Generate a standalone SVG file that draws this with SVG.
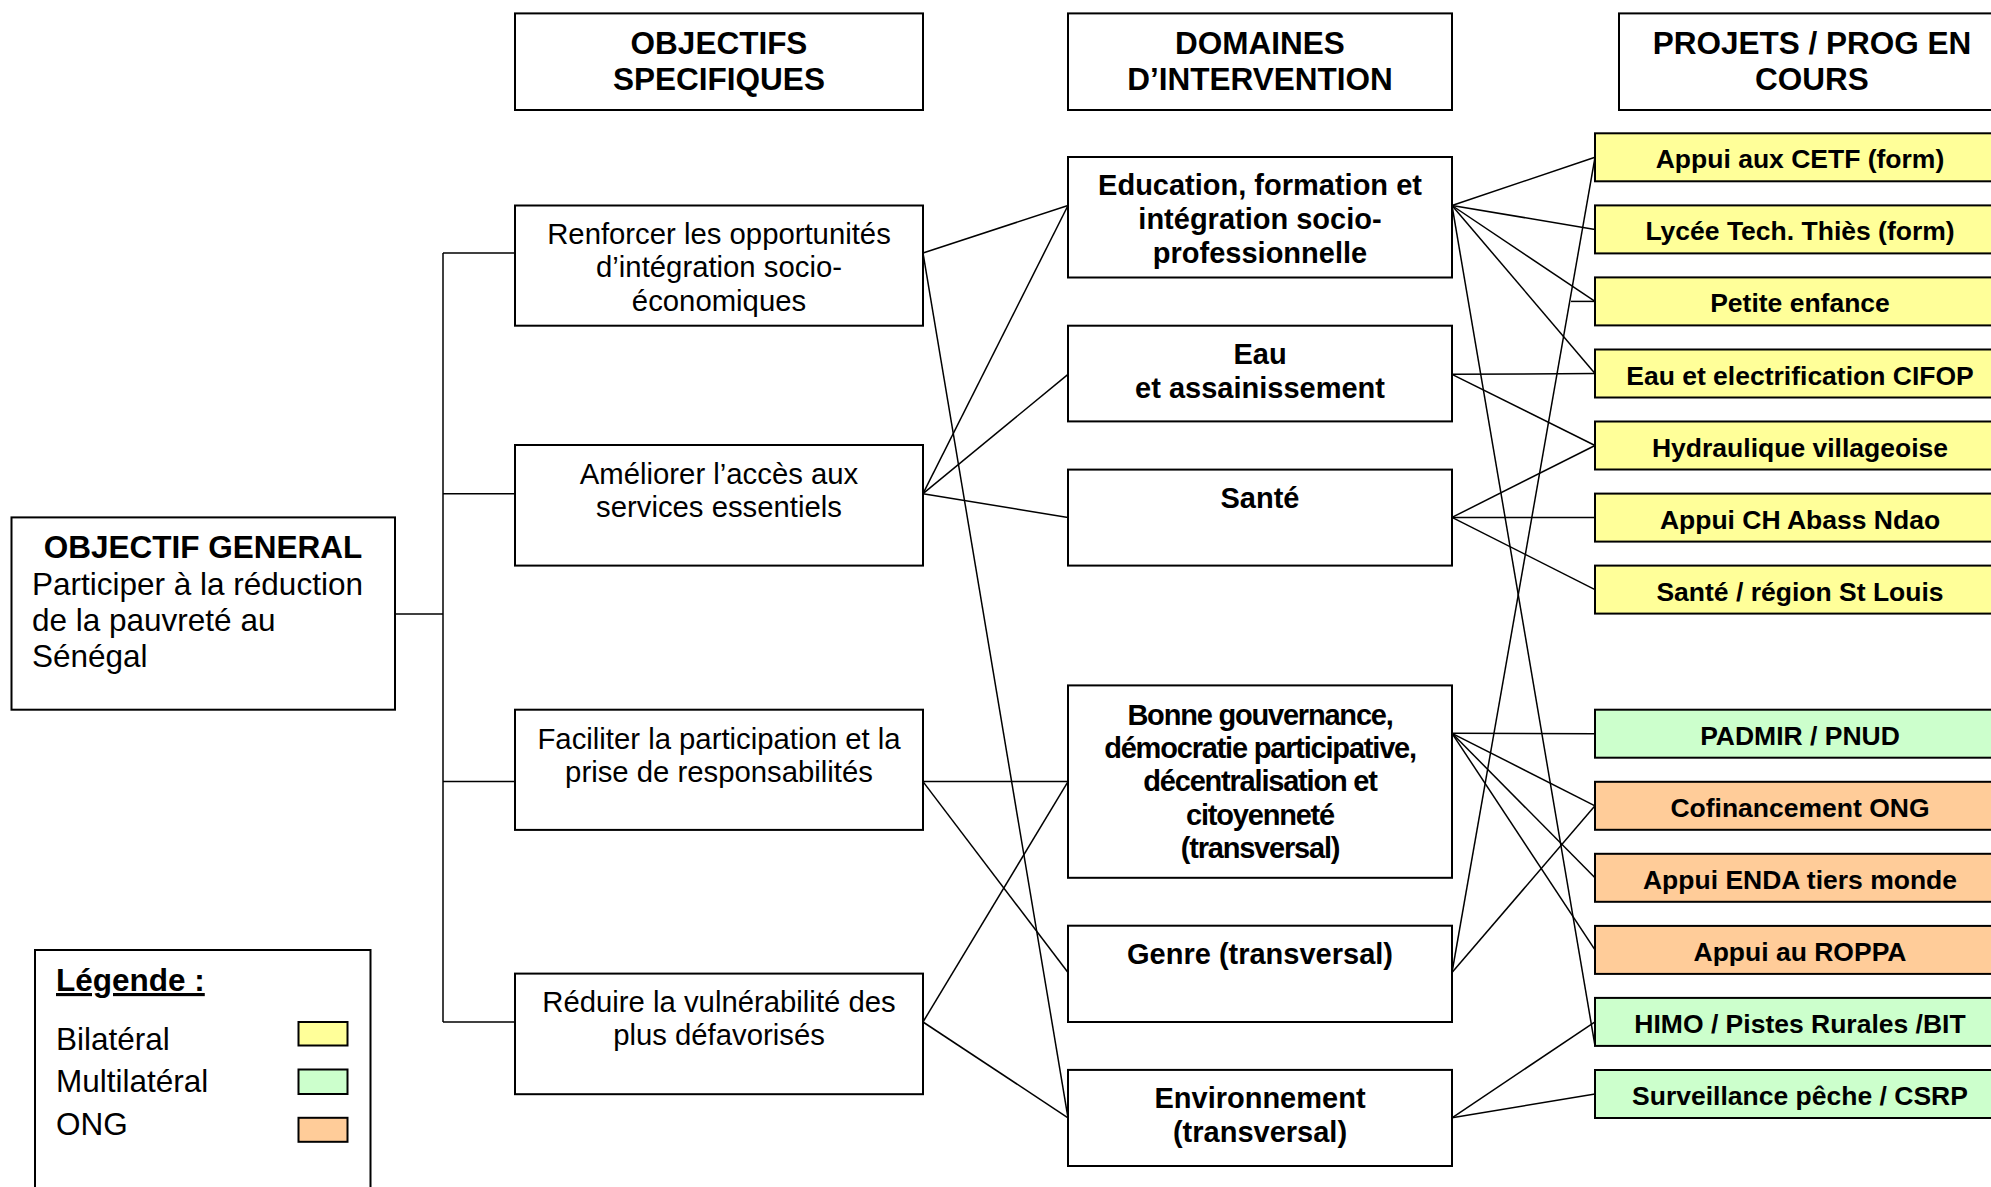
<svg xmlns="http://www.w3.org/2000/svg" width="1991" height="1187" viewBox="0 0 1991 1187">
<style>
text{font-family:"Liberation Sans",Arial,sans-serif;fill:#000}
.box{fill:#fff;stroke:#000;stroke-width:2}
.bil{fill:#FFFF99;stroke:#000;stroke-width:2}
.mul{fill:#CCFFCC;stroke:#000;stroke-width:2}
.ong{fill:#FFCC99;stroke:#000;stroke-width:2}
.hd{font-size:31.5px;font-weight:bold;text-anchor:middle}
.ob{font-size:29.3px;text-anchor:middle}
.dm{font-size:29px;font-weight:bold;text-anchor:middle}
.pj{font-size:26.5px;font-weight:bold;text-anchor:middle}
.lg{font-size:31.5px}
.cn line{stroke:#000;stroke-width:1.5}
</style>
<rect width="1991" height="1187" fill="#fff"/>

<g id="connectors" class="cn">
  <line x1="395" y1="614" x2="443" y2="614"/>
  <line x1="443" y1="253" x2="443" y2="1022"/>
  <line x1="443" y1="253" x2="515" y2="253"/>
  <line x1="443" y1="493.7" x2="515" y2="493.7"/>
  <line x1="443" y1="781.6" x2="515" y2="781.6"/>
  <line x1="443" y1="1022" x2="515" y2="1022"/>
  <line x1="923" y1="253" x2="1068" y2="205.5"/>
  <line x1="923" y1="253" x2="1068" y2="1117.8"/>
  <line x1="923" y1="493.7" x2="1068" y2="205.5"/>
  <line x1="923" y1="493.7" x2="1068" y2="374.3"/>
  <line x1="923" y1="493.7" x2="1068" y2="517.4"/>
  <line x1="923" y1="781.6" x2="1068" y2="781.6"/>
  <line x1="923" y1="781.6" x2="1068" y2="972.5"/>
  <line x1="923" y1="1022" x2="1068" y2="781.6"/>
  <line x1="923" y1="1022" x2="1068" y2="1117.8"/>
  <line x1="1452" y1="205.5" x2="1595" y2="157.3"/>
  <line x1="1452" y1="205.5" x2="1595" y2="229.4"/>
  <line x1="1452" y1="205.5" x2="1595" y2="301.4"/>
  <line x1="1452" y1="205.5" x2="1595" y2="373.5"/>
  <line x1="1452" y1="205.5" x2="1595" y2="1045.8"/>
  <line x1="1452" y1="374.3" x2="1595" y2="373.5"/>
  <line x1="1452" y1="374.3" x2="1595" y2="445.5"/>
  <line x1="1452" y1="517.4" x2="1595" y2="445.5"/>
  <line x1="1452" y1="517.4" x2="1595" y2="517.6"/>
  <line x1="1452" y1="517.4" x2="1595" y2="589.6"/>
  <line x1="1452" y1="733.3" x2="1595" y2="733.7"/>
  <line x1="1452" y1="733.3" x2="1595" y2="805.8"/>
  <line x1="1452" y1="733.3" x2="1595" y2="877.8"/>
  <line x1="1452" y1="733.3" x2="1595" y2="949.9"/>
  <line x1="1452" y1="972.5" x2="1595" y2="157.3"/>
  <line x1="1452" y1="972.5" x2="1595" y2="805.8"/>
  <line x1="1452" y1="1117.8" x2="1595" y2="1021.9"/>
  <line x1="1452" y1="1117.8" x2="1595" y2="1094"/>
  <line x1="1571" y1="301.4" x2="1595" y2="301.4"/>
</g>

<g id="hdr-objectifs">
  <rect class="box" x="515" y="13.4" width="408" height="96.6"/>
  <text class="hd" x="719" y="53.5">OBJECTIFS</text>
  <text class="hd" x="719" y="90">SPECIFIQUES</text>
</g>
<g id="hdr-domaines">
  <rect class="box" x="1068" y="13.4" width="384" height="96.6"/>
  <text class="hd" x="1260" y="53.5">DOMAINES</text>
  <text class="hd" x="1260" y="90">D’INTERVENTION</text>
</g>
<g id="hdr-projets">
  <rect class="box" x="1619" y="13.4" width="386" height="96.6"/>
  <text class="hd" x="1812" y="53.5">PROJETS / PROG EN</text>
  <text class="hd" x="1812" y="90">COURS</text>
</g>

<g id="objectif-general">
  <rect class="box" x="11.5" y="517.4" width="383.5" height="192.3"/>
  <text x="203" y="557.5" style="font-size:31.5px;font-weight:bold;text-anchor:middle">OBJECTIF GENERAL</text>
  <text x="32" y="594.5" style="font-size:31.5px">Participer à la réduction</text>
  <text x="32" y="630.5" style="font-size:31.5px">de la pauvreté au</text>
  <text x="32" y="666.5" style="font-size:31.5px">Sénégal</text>
</g>

<g id="obj-renforcer">
  <rect class="box" x="515" y="205.5" width="408" height="120.2"/>
  <text class="ob" x="719" y="243.5">Renforcer les opportunités</text>
  <text class="ob" x="719" y="277">d’intégration socio-</text>
  <text class="ob" x="719" y="310.5">économiques</text>
</g>
<g id="obj-ameliorer">
  <rect class="box" x="515" y="445" width="408" height="120.6"/>
  <text class="ob" x="719" y="483.5">Améliorer l’accès aux</text>
  <text class="ob" x="719" y="517">services essentiels</text>
</g>
<g id="obj-faciliter">
  <rect class="box" x="515" y="709.7" width="408" height="120.2"/>
  <text class="ob" x="719" y="748.5">Faciliter la participation et la</text>
  <text class="ob" x="719" y="781.5">prise de responsabilités</text>
</g>
<g id="obj-reduire">
  <rect class="box" x="515" y="973.6" width="408" height="120.6"/>
  <text class="ob" x="719" y="1011.5">Réduire la vulnérabilité des</text>
  <text class="ob" x="719" y="1044.5">plus défavorisés</text>
</g>

<g id="dom-education">
  <rect class="box" x="1068" y="157" width="384" height="120.5"/>
  <text class="dm" x="1260" y="195">Education, formation et</text>
  <text class="dm" x="1260" y="228.5">intégration socio-</text>
  <text class="dm" x="1260" y="262.5">professionnelle</text>
</g>
<g id="dom-eau">
  <rect class="box" x="1068" y="325.7" width="384" height="95.7"/>
  <text class="dm" x="1260" y="363.5">Eau</text>
  <text class="dm" x="1260" y="398">et assainissement</text>
</g>
<g id="dom-sante">
  <rect class="box" x="1068" y="469.6" width="384" height="96"/>
  <text class="dm" x="1260" y="507.5">Santé</text>
</g>
<g id="dom-gouvernance">
  <rect class="box" x="1068" y="685.4" width="384" height="192.4"/>
  <text class="dm" x="1260" y="724.5" letter-spacing="-1.2">Bonne gouvernance,</text>
  <text class="dm" x="1260" y="757.5" letter-spacing="-1.2">démocratie participative,</text>
  <text class="dm" x="1260" y="791" letter-spacing="-1.2">décentralisation et</text>
  <text class="dm" x="1260" y="824.5" letter-spacing="-1.2">citoyenneté</text>
  <text class="dm" x="1260" y="858" letter-spacing="-1.2">(transversal)</text>
</g>
<g id="dom-genre">
  <rect class="box" x="1068" y="925.7" width="384" height="96.3"/>
  <text class="dm" x="1260" y="964">Genre (transversal)</text>
</g>
<g id="dom-environnement">
  <rect class="box" x="1068" y="1069.9" width="384" height="96.1"/>
  <text class="dm" x="1260" y="1108">Environnement</text>
  <text class="dm" x="1260" y="1142">(transversal)</text>
</g>

<g id="pj-cetf"><rect class="bil" x="1595" y="133.3" width="410" height="48"/><text class="pj" x="1800" y="168.3">Appui aux CETF (form)</text></g>
<g id="pj-lycee"><rect class="bil" x="1595" y="205.4" width="410" height="48"/><text class="pj" x="1800" y="240.4">Lycée Tech. Thiès (form)</text></g>
<g id="pj-petite"><rect class="bil" x="1595" y="277.4" width="410" height="48"/><text class="pj" x="1800" y="312.4">Petite enfance</text></g>
<g id="pj-cifop"><rect class="bil" x="1595" y="349.5" width="410" height="48"/><text class="pj" x="1800" y="384.5">Eau et electrification CIFOP</text></g>
<g id="pj-hydraulique"><rect class="bil" x="1595" y="421.5" width="410" height="48"/><text class="pj" x="1800" y="456.5">Hydraulique villageoise</text></g>
<g id="pj-ch"><rect class="bil" x="1595" y="493.6" width="410" height="48"/><text class="pj" x="1800" y="528.6">Appui CH Abass Ndao</text></g>
<g id="pj-sante"><rect class="bil" x="1595" y="565.6" width="410" height="48"/><text class="pj" x="1800" y="600.6">Santé / région St Louis</text></g>
<g id="pj-padmir"><rect class="mul" x="1595" y="709.7" width="410" height="48"/><text class="pj" x="1800" y="744.7">PADMIR / PNUD</text></g>
<g id="pj-cofin"><rect class="ong" x="1595" y="781.8" width="410" height="48"/><text class="pj" x="1800" y="816.8">Cofinancement ONG</text></g>
<g id="pj-enda"><rect class="ong" x="1595" y="853.8" width="410" height="48"/><text class="pj" x="1800" y="888.8">Appui ENDA tiers monde</text></g>
<g id="pj-roppa"><rect class="ong" x="1595" y="925.9" width="410" height="48"/><text class="pj" x="1800" y="960.9">Appui au ROPPA</text></g>
<g id="pj-himo"><rect class="mul" x="1595" y="997.9" width="410" height="48"/><text class="pj" x="1800" y="1032.9">HIMO / Pistes Rurales /BIT</text></g>
<g id="pj-csrp"><rect class="mul" x="1595" y="1070" width="410" height="48"/><text class="pj" x="1800" y="1105">Surveillance pêche / CSRP</text></g>

<g id="legende">
  <rect class="box" x="35" y="950" width="335.5" height="260"/>
  <text class="lg" x="56" y="991" font-weight="bold" text-decoration="underline">Légende :</text>
  <text class="lg" x="56" y="1049.5">Bilatéral</text>
  <text class="lg" x="56" y="1092">Multilatéral</text>
  <text class="lg" x="56" y="1134.5">ONG</text>
  <rect class="bil" x="298.5" y="1022" width="49" height="23.5"/>
  <rect class="mul" x="298.5" y="1069.5" width="49" height="24.5"/>
  <rect class="ong" x="298.5" y="1117.8" width="49" height="24"/>
</g>
</svg>
